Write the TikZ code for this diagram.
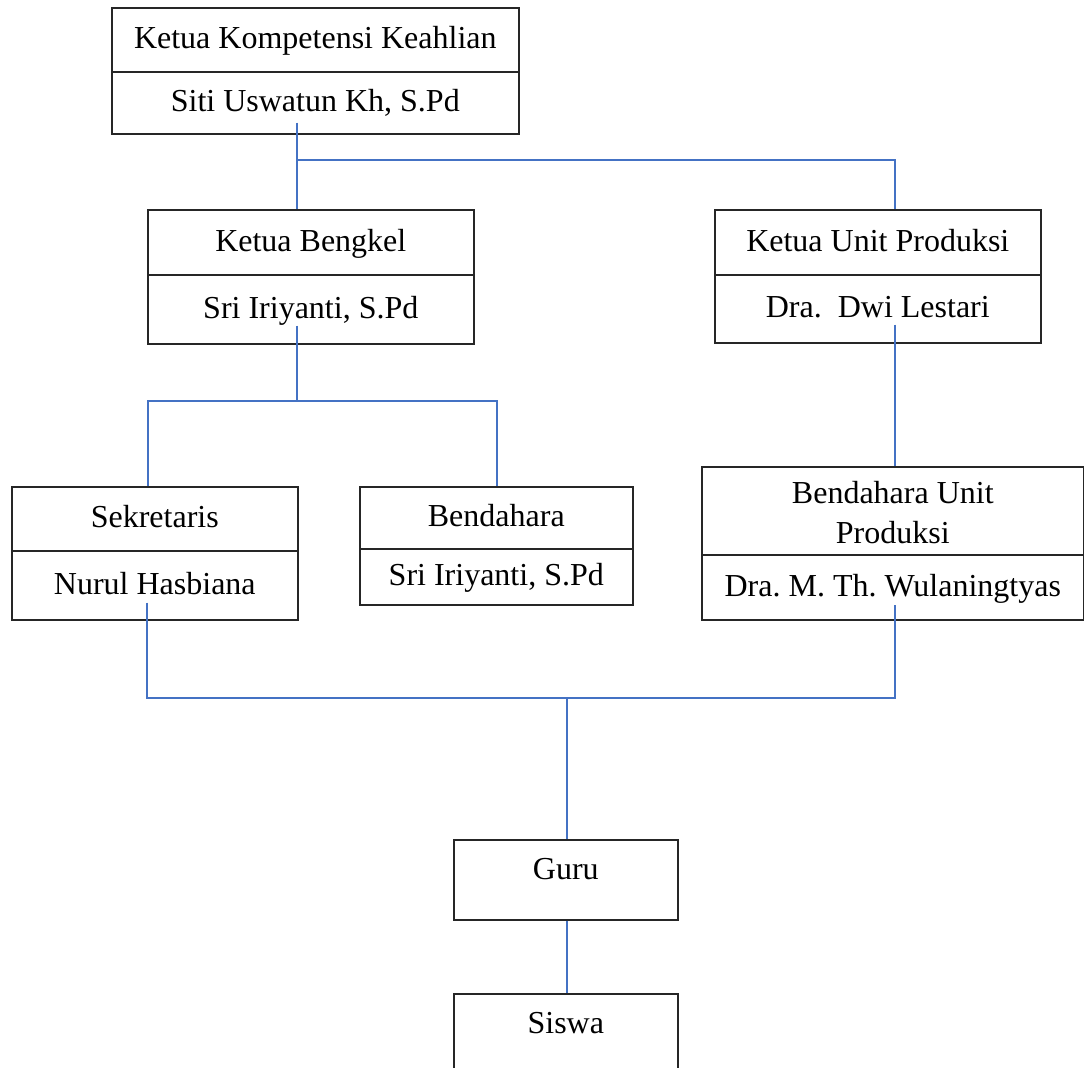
\documentclass[tikz,border=0pt]{standalone}
\usepackage{fontspec}
\setmainfont{Liberation Serif}
\usetikzlibrary{calc}
\definecolor{connblue}{RGB}{68,114,196}
\tikzset{
  rowbox/.style={draw=black!85, line width=0.8pt, inner sep=0pt, anchor=north west,
    font=\fontsize{16}{20}\selectfont\frenchspacing, text height=11pt, text depth=2pt},
  multibox/.style={draw=black!85, line width=0.8pt, inner sep=0pt, anchor=north west,
    font=\fontsize{16}{20}\selectfont\frenchspacing, align=center},
  conn/.style={draw=connblue, line width=1pt}
}
\begin{document}
\begin{tikzpicture}[x=0.5pt,y=-0.5pt]
\path[use as bounding box] (0,0) rectangle (1084,1068);
\clip (0,0) rectangle (1084,1068);
% top box
\node[rowbox, minimum width=203.5pt, minimum height=32pt] (kk1) at (111,7) {Ketua Kompetensi Keahlian};
\node[rowbox, minimum width=203.5pt, minimum height=31pt] (kk2) at (111,71) {Siti Uswatun Kh, S.Pd};
% Ketua Bengkel
\node[rowbox, minimum width=163pt, minimum height=32.5pt] (kb1) at (147,209) {Ketua Bengkel};
\node[rowbox, minimum width=163pt, minimum height=34.5pt] (kb2) at (147,274) {Sri Iriyanti, S.Pd};
% Ketua Unit Produksi
\node[rowbox, minimum width=163pt, minimum height=32.5pt] (ku1) at (714,209) {Ketua Unit Produksi};
\node[rowbox, minimum width=163pt, minimum height=34pt] (ku2) at (714,274) {Dra.\ \ Dwi Lestari};
% Sekretaris
\node[rowbox, minimum width=143pt, minimum height=32pt] (sk1) at (11,486) {Sekretaris};
\node[rowbox, minimum width=143pt, minimum height=34.5pt] (sk2) at (11,550) {Nurul Hasbiana};
% Bendahara
\node[rowbox, minimum width=136.5pt, minimum height=31pt] (bd1) at (359,486) {Bendahara};
\node[rowbox, minimum width=136.5pt, minimum height=28pt] (bd2) at (359,548) {Sri Iriyanti, S.Pd};
% Bendahara Unit Produksi
\node[multibox, minimum width=191pt, minimum height=44pt] (bu1) at (701,466) {\rule{0pt}{13pt}Bendahara Unit\\Produksi};
\node[rowbox, minimum width=191pt, minimum height=32.5pt] (bu2) at (701,554) {Dra. M. Th. Wulaningtyas};
% Guru and Siswa
\node[multibox, minimum width=112pt, text height=20pt, text depth=20pt] (guru) at (453,839) {Guru};
\node[multibox, minimum width=112pt, text height=20pt, text depth=30pt] (siswa) at (453,993) {Siswa};
% junction coordinates
\coordinate (t1) at (297,160);
\coordinate (t2) at (895,160);
\coordinate (t3) at (297,401);
\coordinate (t4) at (148,401);
\coordinate (t5) at (497,401);
\coordinate (t6) at (147,698);
\coordinate (t7) at (895,698);
\coordinate (t8) at (567,698);
% connectors
\draw[conn] ($(kk2.south -| t1)+(0,-12)$) -- (kb1.north -| t1);
\draw[conn] (t1) -- (t2) -- (ku1.north -| t2);
\draw[conn] ($(kb2.south -| t3)+(0,-19)$) -- (t3);
\draw[conn] (sk1.north -| t4) -- (t4) -- (t5) -- (bd1.north -| t5);
\draw[conn] ($(ku2.south -| t2)+(0,-19)$) -- (bu1.north -| t2);
\draw[conn] ($(sk2.south -| t6)+(0,-18)$) -- (t6) -- (t7) -- ($(bu2.south -| t7)+(0,-16)$);
\draw[conn] (t8) -- (guru.north -| t8);
\draw[conn] (guru.south -| t8) -- (siswa.north -| t8);
\end{tikzpicture}
\end{document}
